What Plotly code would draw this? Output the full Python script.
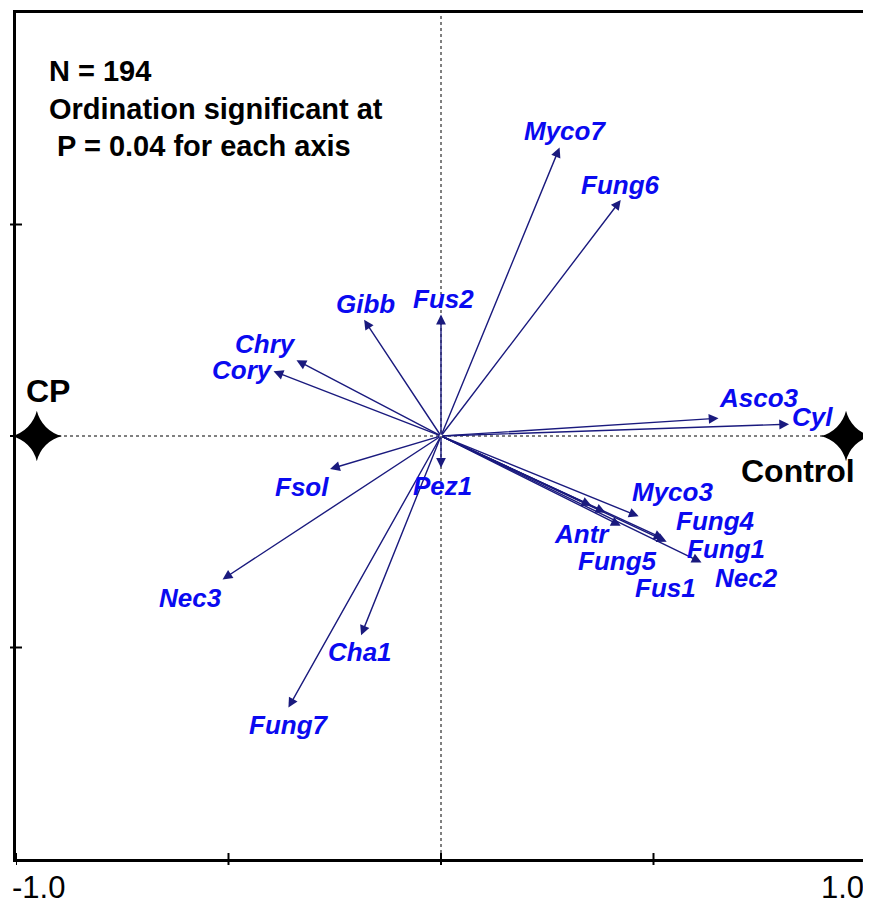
import plotly.graph_objects as go

# ---- data ----
species = ["Myco7", "Fung6", "Fus2", "Gibb", "Chry", "Cory", "Fsol", "Pez1",
           "Nec3", "Cha1", "Fung7", "Asco3", "Cyl", "Myco3", "Fung4", "Fung1",
           "Nec2", "Antr", "Fung5", "Fus1"]
axis1 = [0.279, 0.423, 0.000, -0.181, -0.340, -0.394, -0.261, 0.000,
         -0.514, -0.188, -0.359, 0.653, 0.819, 0.465, 0.524, 0.531,
         0.613, 0.423, 0.354, 0.387]
axis2 = [0.682, 0.558, 0.287, 0.275, 0.179, 0.153, -0.078, -0.075,
         -0.339, -0.471, -0.642, 0.042, 0.028, -0.190, -0.243, -0.250,
         -0.299, -0.212, -0.165, -0.181]

treatments = ["CP", "Control"]
treat_x = [-0.951, 0.953]
treat_y = [0.0, 0.0]

x_ticks = [-1.0, -0.5, 0.0, 0.5, 1.0]
x_tick_labels = {-1.0: "-1.0", 1.0: "1.0"}
y_ticks = [-0.5, 0.0, 0.5]

note_lines = ["N = 194", "Ordination significant at", "\u00a0P = 0.04 for each axis"]

# ---- styling (label offsets in pixels relative to arrow tips) ----
label_offsets = {
    "Myco7": (5, 17), "Fung6": (0, 15), "Fus2": (2, 16), "Gibb": (1, 16),
    "Chry": (-31, 16), "Cory": (-31, 1), "Fsol": (-28, -18), "Pez1": (1, -18),
    "Nec3": (-32, -19), "Cha1": (-1, -17), "Fung7": (1, -17),
    "Asco3": (40, 20), "Cyl": (23, 7), "Myco3": (34, 24), "Fung4": (52, 18),
    "Fung1": (59, -7), "Nec2": (45, -16), "Antr": (-39, -8),
    "Fung5": (26, -55), "Fus1": (60, -75),
}
ARROW = "#1a1a7e"
LABEL = "#0a0af0"
FONT = "Liberation Sans, Arial, sans-serif"

# the page body adds an 8px offset at the top-left
BODY = 8
W, H = 871 - BODY, 905 - BODY
margin = dict(l=16 - BODY, r=3, t=10 - BODY, b=H - (859 - BODY))
pw = W - margin["l"] - margin["r"]
ph = H - margin["t"] - margin["b"]

fig = go.Figure()

# treatment stars
fig.add_trace(go.Scatter(
    x=treat_x, y=treat_y, mode="markers",
    marker=dict(symbol="star-diamond", size=36, color="black",
                line=dict(width=0)),
    showlegend=False, hoverinfo="skip", cliponaxis=False))

annotations = []
# arrows
for name, xv, yv in zip(species, axis1, axis2):
    annotations.append(dict(
        x=xv, y=yv, ax=0, ay=0, xref="x", yref="y", axref="x", ayref="y",
        text="", showarrow=True, arrowhead=2, arrowsize=1.4, arrowwidth=1.4,
        arrowcolor=ARROW, standoff=0, startstandoff=0))
# labels
for name, xv, yv in zip(species, axis1, axis2):
    dx, dy = label_offsets[name]
    annotations.append(dict(
        x=xv, y=yv, xref="x", yref="y", text="<b><i>%s</i></b>" % name,
        showarrow=False, xshift=dx, yshift=dy, xanchor="center", yanchor="middle",
        font=dict(family=FONT, size=26, color=LABEL)))

# treatment labels
annotations.append(dict(x=treat_x[0], y=treat_y[0], xref="x", yref="y",
                        text="<b>CP</b>", showarrow=False, xshift=11, yshift=45,
                        font=dict(family=FONT, size=32, color="black")))
annotations.append(dict(x=treat_x[1], y=treat_y[1], xref="x", yref="y",
                        text="<b>Control</b>", showarrow=False, xshift=-48, yshift=-35,
                        font=dict(family=FONT, size=32, color="black")))

# note
annotations.append(dict(x=-0.927, y=0.905, xref="x", yref="y", xanchor="left",
                        yanchor="top", align="left", showarrow=False,
                        text="<br>".join("<b>%s</b>" % s for s in note_lines),
                        font=dict(family=FONT, size=29, color="black")))

# tick labels
for t, lab in x_tick_labels.items():
    annotations.append(dict(x=t, y=0, xref="x", yref="paper",
                            xanchor="left" if t < 0 else "right", yanchor="top",
                            yshift=-9, showarrow=False, text=lab,
                            xshift=-6 if t < 0 else 0,
                            font=dict(family=FONT, size=31, color="black")))

shapes = []
# dotted axes through origin
shapes.append(dict(type="line", xref="x", yref="paper", x0=0, x1=0, y0=0, y1=1,
                   line=dict(color="black", width=1, dash="dot"), layer="below"))
shapes.append(dict(type="line", xref="paper", yref="y", x0=0, x1=1, y0=0, y1=0,
                   line=dict(color="black", width=1, dash="dot"), layer="below"))
# crossing tick marks
for t in x_ticks:
    shapes.append(dict(type="line", xref="x", yref="paper", x0=t, x1=t,
                       y0=-6 / ph, y1=6 / ph, line=dict(color="black", width=2)))
for t in y_ticks:
    shapes.append(dict(type="line", xref="paper", yref="y", x0=-6 / pw, x1=6 / pw,
                       y0=t, y1=t, line=dict(color="black", width=2)))

axis_style = dict(range=[-1, 1], showgrid=False, zeroline=False,
                  showticklabels=False, ticks="", showline=True, mirror=True,
                  linecolor="black", linewidth=2.5, fixedrange=True)

fig.update_layout(
    width=W, height=H, margin=margin,
    paper_bgcolor="white", plot_bgcolor="white",
    xaxis=axis_style, yaxis=axis_style,
    annotations=annotations, shapes=shapes, showlegend=False)

fig.write_html("out.html")
